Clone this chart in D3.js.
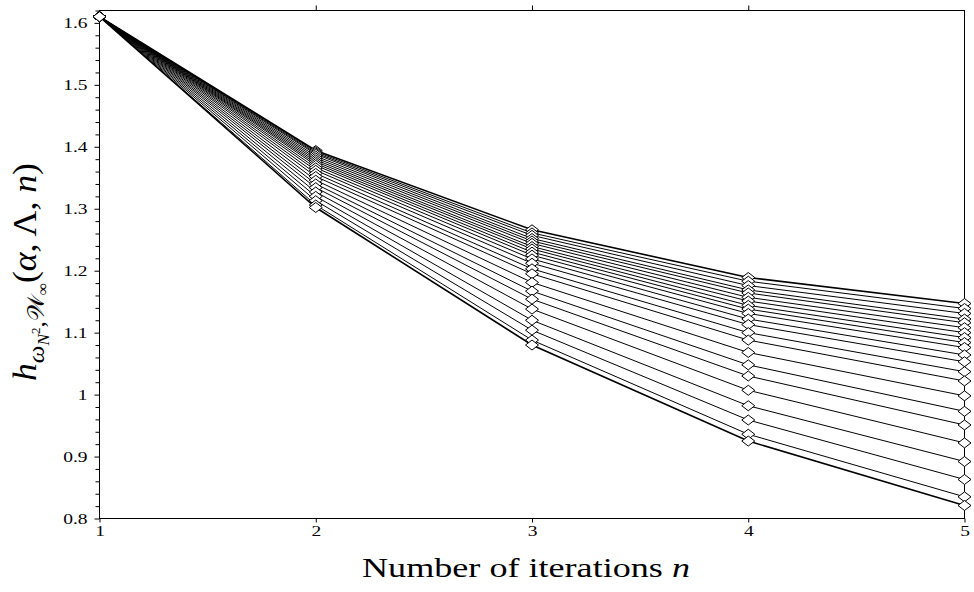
<!DOCTYPE html>
<html>
<head>
<meta charset="utf-8">
<script src="https://cdnjs.cloudflare.com/ajax/libs/d3/7.8.5/d3.min.js"></script>
<style>
  html, body { margin: 0; padding: 0; background: #fff; }
  svg { display: block; }
</style>
</head>
<body>
<svg id="chart" width="974" height="592"></svg>
<script>
// ---------------- data ----------------
const iterations = [1, 2, 3, 4, 5];
// values of each curve (top to bottom) at every iteration count n
const valuesN1 = [1.610, 1.610, 1.610, 1.610, 1.610, 1.610, 1.610, 1.610, 1.610, 1.610, 1.610,
                  1.610, 1.610, 1.610, 1.610, 1.610, 1.610, 1.610, 1.610, 1.610, 1.610, 1.610];
const valuesN2 = [1.394, 1.392, 1.390, 1.388, 1.385, 1.382, 1.379, 1.376, 1.373, 1.370, 1.366,
                  1.362, 1.357, 1.352, 1.346, 1.340, 1.334, 1.327, 1.320, 1.313, 1.306, 1.302];
const valuesN3 = [1.266, 1.261, 1.257, 1.252, 1.248, 1.244, 1.239, 1.235, 1.230, 1.225, 1.219,
                  1.212, 1.203, 1.195, 1.181, 1.167, 1.154, 1.138, 1.120, 1.104, 1.088, 1.080];
const valuesN4 = [1.189, 1.183, 1.176, 1.169, 1.164, 1.157, 1.151, 1.144, 1.138, 1.131, 1.122,
                  1.113, 1.100, 1.088, 1.068, 1.048, 1.030, 1.007, 0.982, 0.959, 0.936, 0.925];
const valuesN5 = [1.147, 1.139, 1.131, 1.122, 1.116, 1.108, 1.100, 1.092, 1.084, 1.076, 1.064,
                  1.053, 1.037, 1.022, 0.998, 0.973, 0.951, 0.922, 0.892, 0.863, 0.835, 0.821];
const yMajorTicks = [0.8, 0.9, 1.0, 1.1, 1.2, 1.3, 1.4, 1.5, 1.6];
const yMinorTicks = [0.82, 0.84, 0.86, 0.88, 0.92, 0.94, 0.96, 0.98, 1.02, 1.04, 1.06, 1.08,
                     1.12, 1.14, 1.16, 1.18, 1.22, 1.24, 1.26, 1.28, 1.32, 1.34, 1.36, 1.38,
                     1.42, 1.44, 1.46, 1.48, 1.52, 1.54, 1.56, 1.58, 1.62];
const xTopTicks = [2, 3, 4];
const xLabel = "Number of iterations ";

// ---------------- build ----------------
const columns = [valuesN1, valuesN2, valuesN3, valuesN4, valuesN5];
const series = d3.range(valuesN1.length).map(i =>
  iterations.map((n, j) => ({ n: n, v: columns[j][i] })));

const svg = d3.select("#chart");
const L = 99.5, R = 964.5, T = 10.5, B = 518.5;
const x = d3.scaleLinear().domain([1, 5]).range([L, R]);
const y = d3.scaleLinear().domain([0.8, 1.62]).range([B, T]);

const serif = "'Liberation Serif', 'Times New Roman', serif";
const sx = 1.3;

// left axis: minor ticks
svg.append("g").attr("transform", `translate(${L},0)`)
  .call(d3.axisLeft(y).tickValues(yMinorTicks.filter(v => v <= 1.62)).tickSize(4).tickFormat(""))
  .call(g => g.select(".domain").remove());
// left axis: major ticks with labels
const gl = svg.append("g").attr("transform", `translate(${L},0)`)
  .call(d3.axisLeft(y).tickValues(yMajorTicks).tickSize(5).tickPadding(6)
        .tickFormat(d => String(+d.toFixed(1))))
  .call(g => g.select(".domain").remove());
gl.selectAll("text")
  .attr("font-family", serif).attr("font-size", 15).attr("fill", "#000")
  .attr("x", -12 / sx).attr("transform", `scale(${sx},1)`);

// bottom axis
const gb = svg.append("g").attr("transform", `translate(0,${B})`)
  .call(d3.axisBottom(x).tickValues(iterations).tickSize(4).tickFormat(d3.format("d")))
  .call(g => g.select(".domain").remove());
gb.selectAll("text")
  .attr("font-family", serif).attr("font-size", 15).attr("fill", "#000")
  .attr("y", 7).attr("x", 0)
  .attr("transform", `scale(${sx},1)`);

// top axis ticks
svg.append("g").attr("transform", `translate(0,${T})`)
  .call(d3.axisTop(x).tickValues(xTopTicks).tickSize(5).tickFormat(""))
  .call(g => g.select(".domain").remove());

svg.selectAll(".tick line").attr("stroke", "#000").attr("stroke-width", 1);

// frame
svg.append("rect").attr("x", L).attr("y", T).attr("width", R - L).attr("height", B - T)
  .attr("fill", "none").attr("stroke", "#000").attr("stroke-width", 1);

// lines
const line = d3.line().x(d => x(d.n)).y(d => y(d.v));
svg.append("g").selectAll("path").data(series).join("path")
  .attr("d", line)
  .attr("fill", "none")
  .attr("stroke", "#000")
  .attr("stroke-width", (d, i) => (i === 0 || i === series.length - 1) ? 1.6 : 1);

// diamond markers
const hw = 6.5, hh = 5;
const pts = series.flatMap(s => s);
svg.append("g").selectAll("path").data(pts).join("path")
  .attr("d", d => {
    const cx = x(d.n), cy = y(d.v);
    return `M${cx - hw},${cy}L${cx},${cy - hh}L${cx + hw},${cy}L${cx},${cy + hh}Z`;
  })
  .attr("fill", "#fff")
  .attr("stroke", "#000")
  .attr("stroke-width", 1);

// x label
const xl = svg.append("text")
  .attr("x", 526).attr("y", 577)
  .attr("text-anchor", "middle")
  .attr("font-family", serif).attr("font-size", 27).attr("fill", "#000")
  .attr("textLength", 328).attr("lengthAdjust", "spacingAndGlyphs");
xl.append("tspan").text(xLabel);
xl.append("tspan").attr("font-style", "italic").text("n");

// y label
const yl = svg.append("text")
  .attr("transform", "translate(36,381) rotate(-90)")
  .attr("font-family", serif).attr("font-size", 33).attr("fill", "#000")
  .attr("textLength", 218).attr("lengthAdjust", "spacingAndGlyphs");
yl.append("tspan").attr("font-style", "italic").text("h");
yl.append("tspan").attr("font-style", "italic").attr("font-size", 23).attr("dy", 8).text("ω");
yl.append("tspan").attr("font-style", "italic").attr("font-size", 16).attr("dy", 5).text("N");
yl.append("tspan").attr("font-size", 12).attr("dy", -9).text("2");
yl.append("tspan").attr("font-size", 23).attr("dy", 4).text(",");
yl.append("tspan").attr("font-size", 23).attr("dy", 0).text("𝒲");
yl.append("tspan").attr("font-size", 16).attr("dy", 4).text("∞");
yl.append("tspan").attr("font-size", 33).attr("dy", -12).text("(");
yl.append("tspan").attr("font-style", "italic").text("α");
yl.append("tspan").text(", Λ, ");
yl.append("tspan").attr("font-style", "italic").text("n");
yl.append("tspan").text(")");
</script>
</body>
</html>
